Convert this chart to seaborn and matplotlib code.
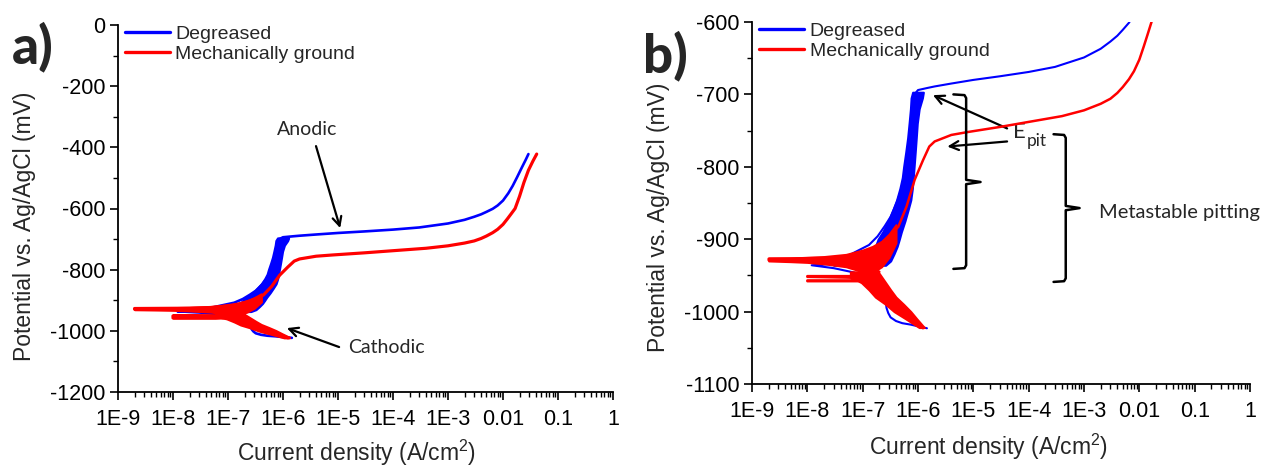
import numpy as np
import pandas as pd
import matplotlib
matplotlib.use("Agg")
import matplotlib.pyplot as plt
import matplotlib.ticker as mticker
import seaborn as sns

# ---- polarization data: current density (A/cm2) vs potential (mV vs Ag/AgCl) ----
# Degreased surface, scan from cathodic end through Ecorr to the anodic end
deg_i = [1.45e-6, 1.1e-6, 7.4e-7, 5.2e-7, 4.0e-7, 3.2e-7, 2.9e-7, 2.7e-7, 2.6e-7,
         2.3e-7, 1.9e-7, 1.5e-7, 1.1e-7, 7e-8, 3e-8, 1.2e-8,
         3e-8, 6.8e-8, 1.3e-7, 1.86e-7, 2.5e-7, 3.2e-7, 4.2e-7, 5.2e-7, 6.0e-7,
         6.8e-7, 7.4e-7, 7.9e-7, 8.6e-7, 1.0e-6, 1.5e-6, 2.0e-6, 4e-6, 1e-5, 3e-5,
         1e-4, 3e-4, 1e-3, 2e-3, 3e-3, 4e-3, 5e-3, 6.5e-3, 8e-3, 1.0e-2, 1.25e-2,
         1.5e-2, 1.8e-2, 2.2e-2, 2.6e-2, 2.9e-2]
deg_E = [-1023, -1021, -1018, -1016, -1013, -1008, -1002, -995, -986,
         -980, -975, -965, -955, -946, -940, -936,
         -934, -919, -908, -896, -882, -869, -848, -827, -803,
         -777, -745, -717, -700, -694, -691, -689, -685, -680, -675,
         -669, -662, -649, -637, -627, -619, -611, -601, -590, -574, -550,
         -526, -498, -466, -440, -422]

# Noisy (metastable pitting) band of the degreased curve
deg_band_E = [-936, -930, -920, -910, -900, -890, -875, -860, -846, -830, -815,
              -800, -780, -760, -740, -720, -705, -697]
deg_band_lo = [3e-8, 8e-8, 1.3e-7, 1.7e-7, 1.9e-7, 2.3e-7, 2.9e-7, 3.5e-7, 4.1e-7,
               4.7e-7, 5.2e-7, 5.5e-7, 6.0e-7, 6.5e-7, 6.9e-7, 7.3e-7, 7.5e-7, 8e-7]
deg_band_hi = [2.6e-7, 3.2e-7, 3.7e-7, 4.2e-7, 4.6e-7, 5.0e-7, 5.8e-7, 6.6e-7, 7.4e-7,
               7.9e-7, 8.2e-7, 8.5e-7, 8.9e-7, 9.3e-7, 9.7e-7, 1.05e-6, 1.2e-6, 1.25e-6]

# Mechanically ground surface
gr_i = [1.23e-6, 9.0e-7, 6.2e-7, 4.2e-7, 2.6e-7, 1.6e-7, 1.1e-7, 6e-8, 2.5e-8,
        1.0e-8, 1.0e-8, 5e-8, 1.3e-7, 6e-8, 1.0e-8, 1.0e-8, 8e-8, 1.5e-7, 2e-7,
        1.3e-7, 6e-8, 2e-8, 2e-9, 2e-9, 2e-8, 4.8e-8, 1.35e-7, 2.6e-7, 4.4e-7,
        6.2e-7, 8.7e-7, 1.23e-6, 1.6e-6, 2.0e-6, 4.0e-6, 7.9e-6, 3e-5, 1e-4, 4e-4,
        1e-3, 2e-3, 3e-3, 4e-3, 5e-3, 6.5e-3, 8e-3, 1.0e-2, 1.2e-2, 1.4e-2,
        1.66e-2, 2.0e-2, 2.4e-2, 2.9e-2, 3.5e-2, 4.1e-2]
gr_E = [-1023, -1013, -1002, -990, -975, -962, -955, -951, -951,
        -951, -952, -953, -954, -957, -957, -958, -958, -955, -945,
        -938, -933, -930, -929, -927, -926, -924, -917, -901, -883,
        -855, -818, -791, -772, -765, -756, -752, -745, -738, -730,
        -722, -713, -706, -698, -690, -679, -668, -652, -634, -618,
        -600, -560, -515, -475, -445, -422]

# Noisy cathodic wedge of the ground curve
gr_cath_E = [-1022, -1010, -1000, -990, -980, -970, -960, -952, -945]
gr_cath_lo = [1.05e-6, 6e-7, 3.7e-7, 2.6e-7, 1.7e-7, 1.3e-7, 9.5e-8, 6e-8, 6e-8]
gr_cath_hi = [1.3e-6, 9.5e-7, 7.4e-7, 5.5e-7, 4.0e-7, 3.2e-7, 2.6e-7, 2.2e-7, 1.9e-7]

# Noisy anodic spike near Ecorr of the ground curve
gr_spike_i = [2e-9, 5e-9, 1e-8, 2e-8, 5e-8, 1e-7, 1.5e-7, 2.2e-7, 3e-7, 4e-7]
gr_spike_lo = [-930, -931, -932, -934, -938, -945, -946, -938, -925, -905]
gr_spike_hi = [-926, -926, -925, -924, -921, -915, -910, -903, -893, -880]

series_names = ["Degreased", "Mechanically ground"]
series_colors = ["#0000ff", "#ff0000"]

x_tick_values = [1e-9, 1e-8, 1e-7, 1e-6, 1e-5, 1e-4, 1e-3, 1e-2, 1e-1, 1]
x_tick_labels = ["1E-9", "1E-8", "1E-7", "1E-6", "1E-5", "1E-4", "1E-3",
                 "0.01", "0.1", "1"]

xlabel = "Current density (A/cm$^2$)"
ylabel = "Potential vs. Ag/AgCl (mV)"

# ---- style ----
sns.set_style("ticks")
plt.rcParams["font.family"] = ["Liberation Sans", "DejaVu Sans"]
plt.rcParams["axes.unicode_minus"] = False
plt.rcParams["mathtext.fontset"] = "custom"
plt.rcParams["mathtext.rm"] = "Liberation Sans"
ANN_FONT = ["Lato", "DejaVu Sans"]

fig = plt.figure(figsize=(12.73, 4.67), dpi=100)
ax_a = fig.add_axes([118 / 1273, 1 - 392 / 467, 495 / 1273, 367 / 467])
ax_b = fig.add_axes([752 / 1273, 1 - 384 / 467, 498 / 1273, 362 / 467])

deg_df = pd.DataFrame({"i": deg_i, "E": deg_E})
gr_df = pd.DataFrame({"i": gr_i, "E": gr_E})


def draw_panel(ax, lw, ylim, ymajor, yminor, label_xy):
    blue, red = series_colors
    ax.fill_betweenx(deg_band_E, deg_band_lo, deg_band_hi, color=blue,
                     lw=lw, edgecolor=blue, zorder=2)
    sns.lineplot(data=deg_df, x="i", y="E", sort=False, estimator=None,
                 color=blue, lw=lw, label=series_names[0], ax=ax, zorder=3)
    ax.fill_betweenx(gr_cath_E, gr_cath_lo, gr_cath_hi, color=red,
                     lw=lw, edgecolor=red, zorder=4)
    ax.fill_between(gr_spike_i, gr_spike_lo, gr_spike_hi, color=red,
                    lw=lw, edgecolor=red, zorder=4)
    sns.lineplot(data=gr_df, x="i", y="E", sort=False, estimator=None,
                 color=red, lw=lw * 1.2, label=series_names[1], ax=ax, zorder=5)

    ax.set_xscale("log")
    ax.set_xlim(1e-9, 1)
    ax.set_ylim(*ylim)
    ax.xaxis.set_major_locator(mticker.FixedLocator(x_tick_values))
    ax.xaxis.set_major_formatter(mticker.FixedFormatter(x_tick_labels))
    ax.xaxis.set_minor_locator(mticker.LogLocator(base=10, subs=np.arange(2, 10), numticks=20))
    ax.xaxis.set_minor_formatter(mticker.NullFormatter())
    ax.yaxis.set_major_locator(mticker.MultipleLocator(ymajor))
    ax.yaxis.set_minor_locator(mticker.MultipleLocator(yminor))

    for s in ("top", "right"):
        ax.spines[s].set_visible(False)
    for s in ("left", "bottom"):
        ax.spines[s].set_linewidth(1.3)
        ax.spines[s].set_color("black")
    ax.tick_params(which="major", direction="out", length=6, width=1.2,
                   labelsize=15.5, colors="black", pad=3)
    ax.tick_params(which="minor", direction="out", length=3.5, width=1.0,
                   colors="black")
    ax.tick_params(axis="x", which="major", pad=6)

    ax.set_xlabel(xlabel, fontsize=16.5)
    ax.set_ylabel(ylabel, fontsize=16.5)
    ax.xaxis.set_label_coords(label_xy[0], label_xy[1])
    ax.yaxis.set_label_coords(label_xy[2], label_xy[3])

    leg = ax.legend(loc="upper left", bbox_to_anchor=(0.014, 1.0), frameon=False,
                    fontsize=14, handlelength=2.3, handletextpad=0.3,
                    labelspacing=0.15, borderpad=0, borderaxespad=0)
    for h in leg.get_lines():
        h.set_linewidth(2.4)


draw_panel(ax_a, 1.9, (-1200, 0), 200, 100, (0.482, -0.124, -0.166, 0.452))
draw_panel(ax_b, 1.5, (-1100, -600), 100, 50, (0.474, -0.133, -0.165, 0.46))

arrow_kw = dict(arrowstyle="->", lw=1.6, color="black", mutation_scale=16,
                shrinkA=0, shrinkB=0)

# ---- panel a annotations ----
ax_a.text(10 ** -5.56, -343, "Anodic", fontsize=14, family=ANN_FONT,
          ha="center", va="center")
ax_a.annotate("", xy=(10 ** -4.96, -664), xytext=(10 ** -5.4, -396),
              arrowprops=arrow_kw)
ax_a.text(10 ** -4.82, -1053, "Cathodic", fontsize=14, family=ANN_FONT,
          ha="left", va="center")
ax_a.annotate("", xy=(10 ** -5.93, -991), xytext=(10 ** -4.98, -1053),
              arrowprops=arrow_kw)

# ---- panel b annotations ----
ax_b.text(10 ** -4.28, -760, "E", fontsize=16, family=ANN_FONT,
          ha="left", va="baseline")
ax_b.text(10 ** -4.03, -771, "pit", fontsize=12.5, family=ANN_FONT,
          ha="left", va="baseline")
ax_b.annotate("", xy=(10 ** -5.73, -701), xytext=(10 ** -4.39, -747),
              arrowprops=arrow_kw)
ax_b.annotate("", xy=(10 ** -5.47, -772), xytext=(10 ** -4.39, -765),
              arrowprops=arrow_kw)

bracket1_x = [-5.36, -5.16, -5.13, -5.13, -4.87, -5.13, -5.13, -5.16, -5.36]
bracket1_E = [-700, -701, -705, -818, -821, -824, -936, -940, -941]
bracket2_x = [-3.55, -3.36, -3.33, -3.33, -3.08, -3.33, -3.33, -3.36, -3.55]
bracket2_E = [-755, -756, -760, -854, -857, -860, -954, -958, -959]
for bx, bE in ((bracket1_x, bracket1_E), (bracket2_x, bracket2_E)):
    ax_b.plot(10 ** np.array(bx), bE, color="black", lw=1.8,
              solid_joinstyle="round", clip_on=False, zorder=6)

ax_b.text(10 ** -2.72, -863, "Metastable pitting", fontsize=14.5,
          family=ANN_FONT, ha="left", va="center", clip_on=False)

# ---- panel letters ----
fig.text(12 / 1273, 1 - 63 / 467, "a)", fontsize=38, fontweight=900,
         family=ANN_FONT, ha="left", va="baseline")
fig.text(643 / 1273, 1 - 72 / 467, "b)", fontsize=38, fontweight=900,
         family=ANN_FONT, ha="left", va="baseline")

fig.savefig("out.png", dpi=100)
